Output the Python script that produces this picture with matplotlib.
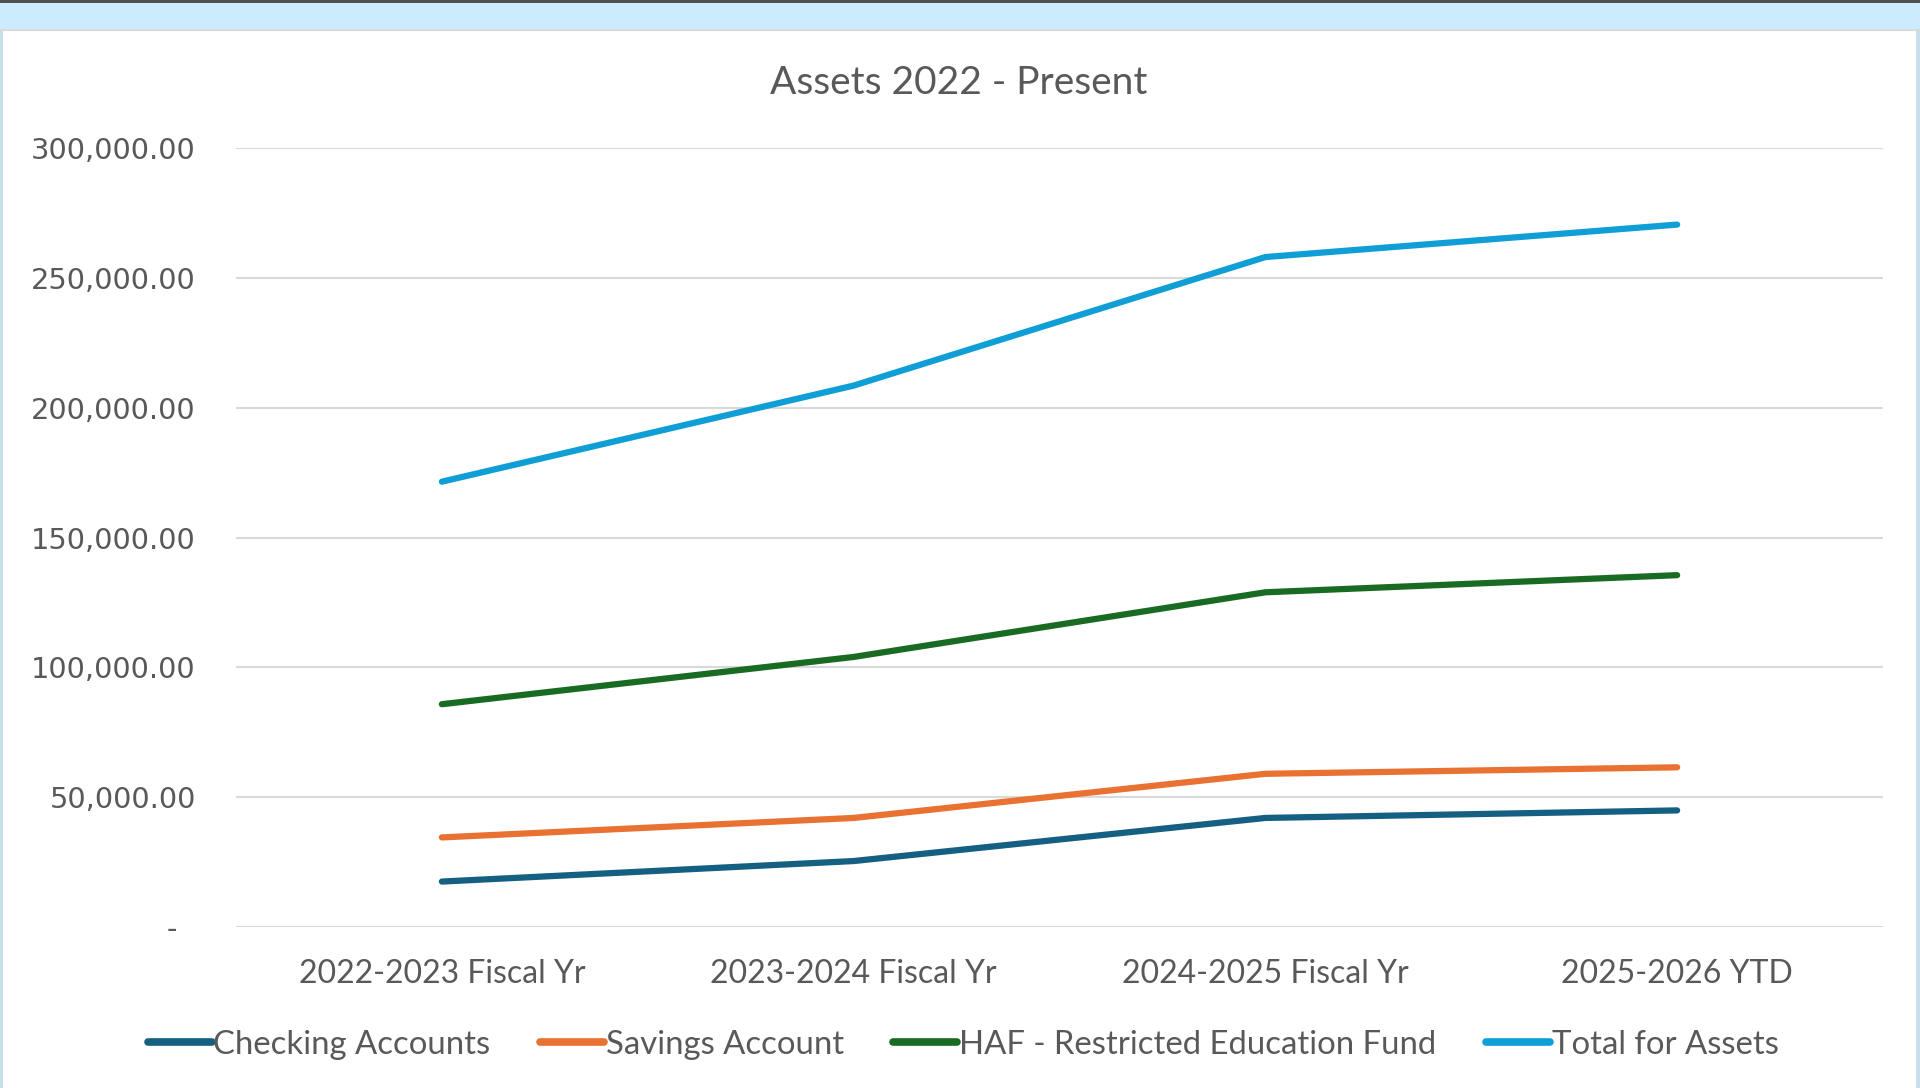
import numpy as np
import matplotlib
matplotlib.use('Agg')
import matplotlib.pyplot as plt
from matplotlib.patches import Rectangle
from matplotlib.lines import Line2D

#### DATA ####
categories = ['2022-2023 Fiscal Yr', '2023-2024 Fiscal Yr', '2024-2025 Fiscal Yr', '2025-2026 YTD']
checking = [17500, 25400, 42000, 44900]
savings = [34500, 42000, 59000, 61500]
haf_fund = [85800, 104000, 128900, 135500]
total_assets = [171500, 208500, 258000, 270500]

series_names = ['Checking Accounts', 'Savings Account', 'HAF - Restricted Education Fund', 'Total for Assets']
series_values = [checking, savings, haf_fund, total_assets]
series_colors = ['#156082', '#E97132', '#196B24', '#0F9ED5']

yticks = [0, 50000, 100000, 150000, 200000, 250000, 300000]

TXT = '#595959'
FONT = 'Lato'

#### FIGURE ####
fig = plt.figure(figsize=(19.2, 10.88), dpi=100)
fig.patch.set_facecolor('white')

# spreadsheet strip behind the chart
fig.patches.append(Rectangle((0, 1 - 30 / 1088), 1, 30 / 1088, transform=fig.transFigure,
                             facecolor='#CCEBFD', edgecolor='none', zorder=0))
fig.patches.append(Rectangle((0, 1 - 3 / 1088), 1, 3 / 1088, transform=fig.transFigure,
                             facecolor='#505050', edgecolor='none', zorder=1))
fig.patches.append(Rectangle((0, 1 - 31 / 1088), 1, 2 / 1088, transform=fig.transFigure,
                             facecolor='#D9D9D9', edgecolor='none', zorder=1))
fig.patches.append(Rectangle((0, 0), 3 / 1920, 1 - 30 / 1088, transform=fig.transFigure,
                             facecolor='#C9DDEA', edgecolor='none', zorder=1))
fig.patches.append(Rectangle((1 - 4 / 1920, 0), 4 / 1920, 1 - 30 / 1088, transform=fig.transFigure,
                             facecolor='#C9DDEA', edgecolor='none', zorder=1))

ax = fig.add_axes([236 / 1920, 1 - 927 / 1088, (1883 - 236) / 1920, (927 - 148) / 1088])
x = np.arange(len(categories))
for name, vals, col in zip(series_names, series_values, series_colors):
    ax.plot(x, vals, color=col, lw=4.5, solid_capstyle='round', solid_joinstyle='round', label=name, zorder=3)

ax.set_xlim(-0.5, len(categories) - 0.5)
ax.set_ylim(0, 300000)
ax.set_yticks(yticks)
# accounting style: zero shown as a dash, set in from the right edge
ax.set_yticklabels(['-  ' if v == 0 else f'{v:,.2f}' for v in yticks])
ax.set_xticks(x)
ax.set_xticklabels(categories)
ax.grid(axis='y', color='#D9D9D9', lw=1.5, zorder=0)
ax.tick_params(axis='both', length=0, colors=TXT)
ax.tick_params(axis='y', pad=29, labelsize=20.8)
ax.tick_params(axis='x', pad=23, labelsize=23)
for lbl in ax.get_yticklabels():
    lbl.set_fontfamily('DejaVu Sans')
    lbl.set_color(TXT)
for lbl in ax.get_xticklabels():
    lbl.set_fontfamily(FONT)
    lbl.set_color(TXT)
for s in ax.spines.values():
    s.set_visible(False)

fig.text(959 / 1920, 1 - 83 / 1088, 'Assets 2022 - Present', ha='center', va='center',
         fontsize=28, color=TXT, family=FONT)

handles = [Line2D([0], [0], color=c, lw=5.5, solid_capstyle='round') for c in series_colors]
leg = fig.legend(handles, series_names, loc='center', bbox_to_anchor=(963 / 1920, 1 - 1045 / 1088),
                 ncol=4, frameon=False, handlelength=1.95, handletextpad=0.05, columnspacing=1.5,
                 prop={'family': FONT, 'size': 23.7})
for t in leg.get_texts():
    t.set_color(TXT)

fig.savefig('out.png', dpi=100, facecolor=fig.get_facecolor())
